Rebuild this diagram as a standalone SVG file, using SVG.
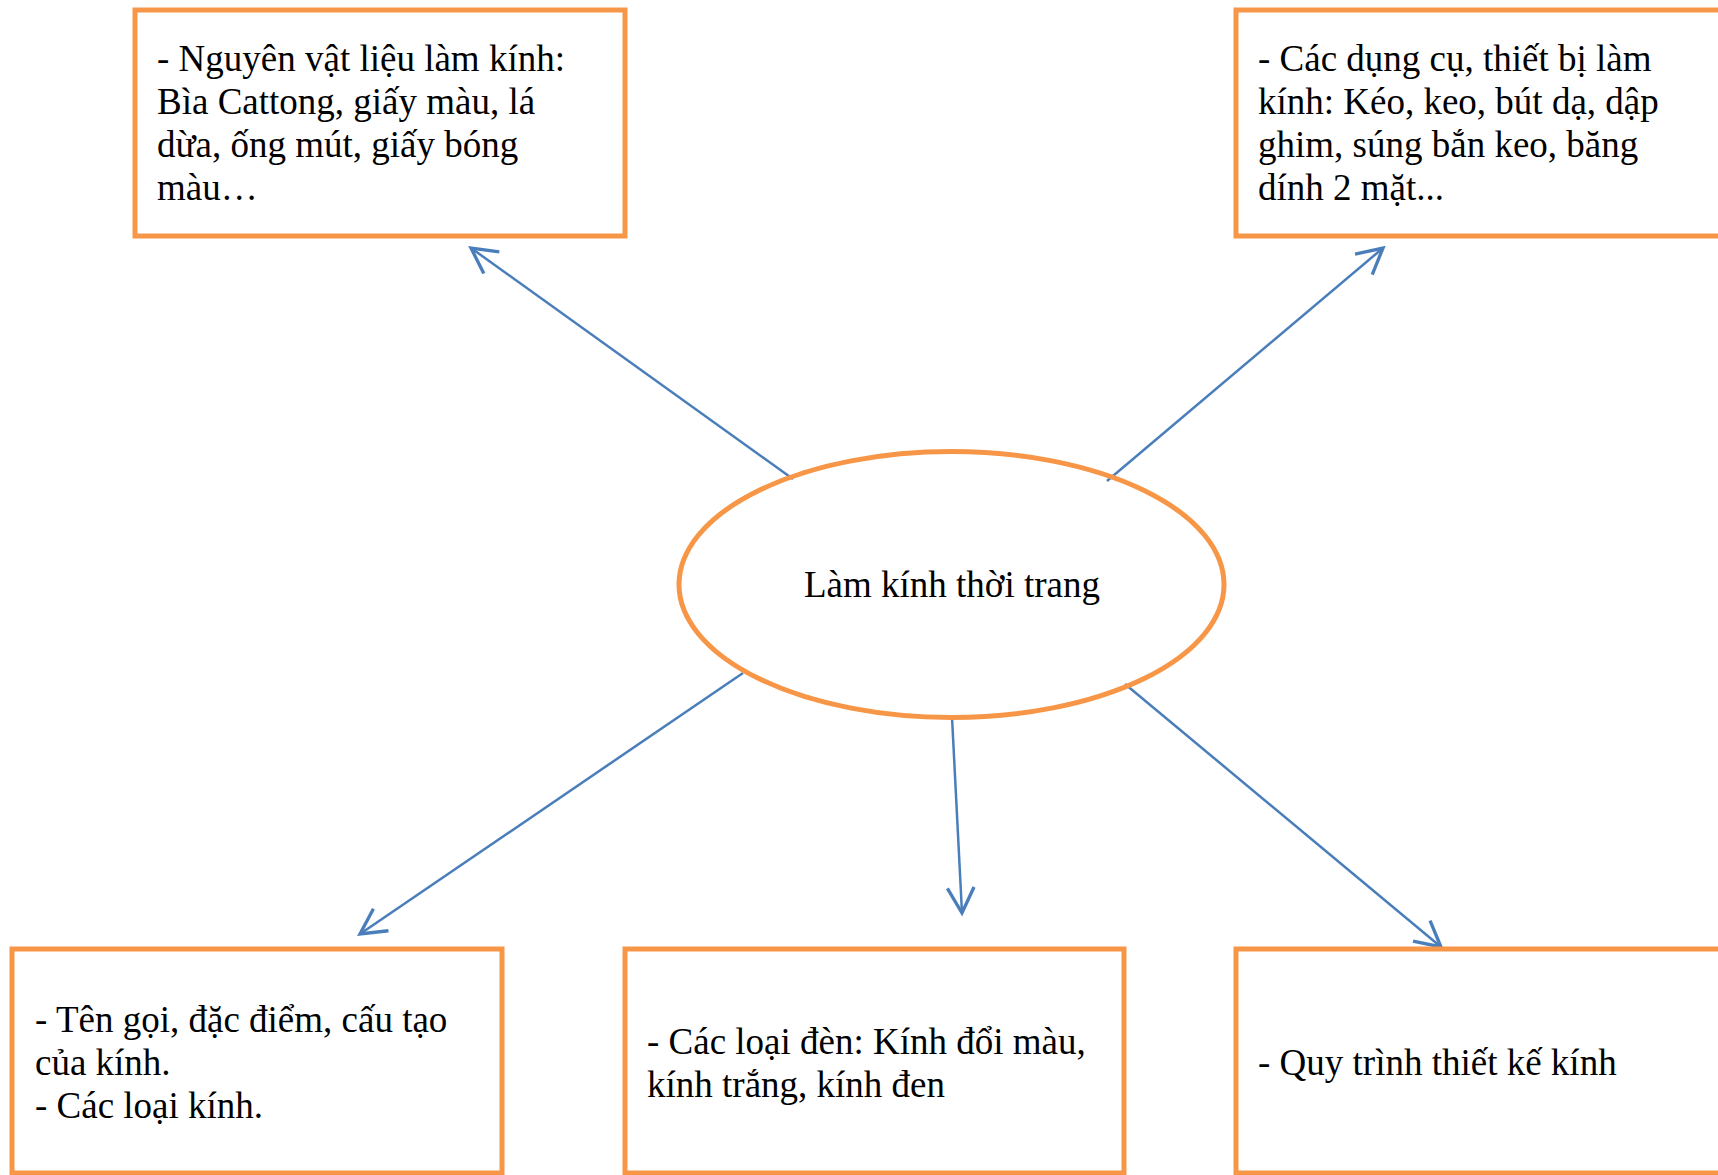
<svg xmlns="http://www.w3.org/2000/svg" width="1718" height="1175" viewBox="0 0 1718 1175">
<style>
.box{fill:#fff;stroke:#F79646;stroke-width:5}
.t{font-family:"Liberation Serif","Times New Roman",serif;font-size:37px;fill:#000}
.c{fill:none;stroke:#4A7EBB;stroke-width:2.5}
</style>
<defs>
<marker id="ah" markerUnits="userSpaceOnUse" markerWidth="40" markerHeight="40" viewBox="-25 -15 30 30" refX="0" refY="0" orient="auto" overflow="visible">
<path d="M-19,-10 L0,0 L-19,10" fill="none" stroke="#4A7EBB" stroke-width="2.5"/>
</marker>
</defs>
<rect width="1718" height="1175" fill="#fff"/>
<g id="connectors">
<line class="c" x1="793" y1="479" x2="471" y2="248" marker-end="url(#ah)"/>
<line class="c" x1="1107" y1="481" x2="1383" y2="248" marker-end="url(#ah)"/>
<line class="c" x1="743" y1="673" x2="360" y2="934" marker-end="url(#ah)"/>
<line class="c" x1="952" y1="717" x2="962" y2="913" marker-end="url(#ah)"/>
<line class="c" x1="1125" y1="684" x2="1441" y2="947" marker-end="url(#ah)"/>
</g>
<g id="center">
<ellipse cx="951.5" cy="584.5" rx="272.5" ry="133" fill="none" stroke="#F79646" stroke-width="5"/>
<text class="t" x="952" y="597" text-anchor="middle">Làm kính thời trang</text>
</g>
<g id="materials">
<rect class="box" x="135" y="10" width="490" height="226"/>
<text class="t" x="157" y="71">- Nguyên vật liệu làm kính:</text>
<text class="t" x="157" y="114">Bìa Cattong, giấy màu, lá</text>
<text class="t" x="157" y="157">dừa, ống mút, giấy bóng</text>
<text class="t" x="157" y="200">màu…</text>
</g>
<g id="tools">
<rect class="box" x="1236" y="10" width="500" height="226"/>
<text class="t" x="1258" y="71">- Các dụng cụ, thiết bị làm</text>
<text class="t" x="1258" y="114">kính: Kéo, keo, bút dạ, dập</text>
<text class="t" x="1258" y="157">ghim, súng bắn keo, băng</text>
<text class="t" x="1258" y="200">dính 2 mặt...</text>
</g>
<g id="names">
<rect class="box" x="12" y="949" width="490" height="224"/>
<text class="t" x="35" y="1032">- Tên gọi, đặc điểm, cấu tạo</text>
<text class="t" x="35" y="1075">của kính.</text>
<text class="t" x="35" y="1118">- Các loại kính.</text>
</g>
<g id="types">
<rect class="box" x="625" y="949" width="499" height="224"/>
<text class="t" x="647" y="1054">- Các loại đèn: Kính đổi màu,</text>
<text class="t" x="647" y="1097">kính trắng, kính đen</text>
</g>
<g id="process">
<rect class="box" x="1236" y="949" width="500" height="224"/>
<text class="t" x="1258" y="1075">- Quy trình thiết kế kính</text>
</g>
</svg>
